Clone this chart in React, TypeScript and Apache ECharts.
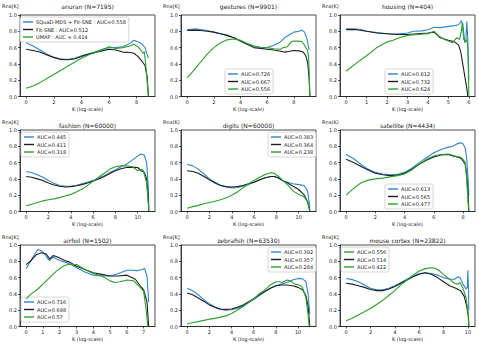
import React, { useEffect, useRef } from "react";
import * as echarts from "echarts";

type P = [number, number][];

// ---------- data (x = log K, y = Rnx(K)) ----------
const titles = [
  "anuran (N=7195)", "gestures (N=9901)", "housing (N=404)",
  "fashion (N=60000)", "digits (N=60000)", "satellite (N=4434)",
  "airfoil (N=1502)", "zebrafish (N=63530)", "mouse cortex (N=23822)",
];
const yLabels = ["Rnx[K]", "Rnx[K]", "Rnx(K)", "Rnx[K]", "Rnx(K)", "Rnx(K)", "Rnx[K]", "Rnx[K]", "Rnx[K]"];
const xMax = [8.88, 9.2, 6.0, 11.0, 11.0, 8.4, 7.31, 11.06, 10.08];
const xTicks = [
  [0, 2, 4, 6, 8], [0, 2, 4, 6, 8], [0, 1, 2, 3, 4, 5, 6],
  [0, 2, 4, 6, 8, 10], [0, 2, 4, 6, 8, 10], [0, 2, 4, 6, 8],
  [0, 1, 2, 3, 4, 5, 6, 7], [0, 2, 4, 6, 8, 10], [0, 2, 4, 6, 8, 10],
];
const yTicks = [0, 0.2, 0.4, 0.6, 0.8, 1.0];
const seriesNames = [
  ["SQuaD-MDS + FIt-SNE : AUC=0.558", "FIt-SNE : AUC=0.512", "UMAP : AUC = 0.414"],
  ["AUC=0.726", "AUC=0.667", "AUC=0.556"],
  ["AUC=0.812", "AUC=0.732", "AUC=0.624"],
  ["AUC=0.445", "AUC=0.411", "AUC=0.318"],
  ["AUC=0.383", "AUC=0.364", "AUC=0.238"],
  ["AUC=0.613", "AUC=0.565", "AUC=0.477"],
  ["AUC=0.716", "AUC=0.698", "AUC=0.57"],
  ["AUC=0.392", "AUC=0.357", "AUC=0.284"],
  ["AUC=0.556", "AUC=0.514", "AUC=0.422"],
];

const anuranBlue: P = [[0,0.66],[0.5,0.62],[1,0.57],[1.5,0.52],[2,0.48],[2.5,0.46],[3,0.455],[3.5,0.47],[4,0.5],[4.5,0.52],[5,0.55],[5.5,0.58],[6,0.6],[6.5,0.6],[7,0.61],[7.4,0.64],[7.8,0.69],[8.1,0.67],[8.4,0.64],[8.6,0.6],[8.75,0.52],[8.85,0.47]];
const anuranBlack: P = [[0,0.58],[0.5,0.565],[1,0.545],[1.5,0.51],[2,0.48],[2.5,0.455],[3,0.45],[3.5,0.46],[4,0.49],[4.5,0.52],[5,0.54],[5.5,0.56],[6,0.58],[6.5,0.57],[7,0.545],[7.5,0.54],[7.8,0.53],[8.1,0.49],[8.4,0.43],[8.6,0.38],[8.75,0.25],[8.85,0.0]];
const anuranGreen: P = [[0,0.1],[0.5,0.13],[1,0.17],[1.5,0.22],[2,0.27],[2.5,0.32],[3,0.37],[3.5,0.42],[4,0.47],[4.5,0.51],[5,0.54],[5.5,0.57],[6,0.61],[6.5,0.59],[7,0.6],[7.5,0.62],[7.8,0.64],[8.1,0.61],[8.3,0.57],[8.45,0.53],[8.55,0.55],[8.65,0.4],[8.8,0.1],[8.85,0.0]];

const gesturesBlue: P = [[0,0.82],[0.3,0.825],[0.7,0.83],[1,0.82],[1.5,0.81],[2,0.79],[2.5,0.77],[3,0.75],[3.5,0.72],[4,0.68],[4.5,0.64],[5,0.62],[5.5,0.605],[6,0.6],[6.5,0.63],[7,0.67],[7.3,0.72],[7.7,0.76],[8,0.79],[8.4,0.8],[8.6,0.815],[8.8,0.79],[9,0.7],[9.1,0.6],[9.15,0.57]];
const gesturesBlack: P = [[0,0.81],[0.5,0.815],[1,0.81],[1.5,0.8],[2,0.79],[2.5,0.77],[3,0.75],[3.5,0.72],[4,0.68],[4.5,0.64],[5,0.6],[5.5,0.59],[6,0.58],[6.5,0.57],[7,0.555],[7.3,0.545],[7.7,0.555],[8,0.565],[8.4,0.56],[8.7,0.545],[8.9,0.5],[9.05,0.4],[9.15,0.2],[9.2,0.0]];
const gesturesGreen: P = [[0,0.23],[0.5,0.32],[1,0.42],[1.5,0.52],[2,0.6],[2.5,0.66],[3,0.695],[3.5,0.705],[4,0.69],[4.5,0.65],[5,0.62],[5.5,0.605],[6,0.6],[6.5,0.585],[7,0.58],[7.2,0.6],[7.5,0.61],[7.8,0.67],[8,0.68],[8.3,0.68],[8.6,0.675],[8.8,0.63],[9,0.57],[9.1,0.5],[9.15,0.3],[9.2,0.0]];

const housingBlue: P = [[0,0.83],[0.3,0.83],[0.7,0.825],[1,0.8],[1.5,0.785],[2,0.77],[2.5,0.765],[3,0.78],[3.3,0.8],[3.7,0.805],[4,0.82],[4.3,0.85],[4.6,0.845],[5,0.86],[5.3,0.87],[5.5,0.88],[5.65,0.93],[5.75,0.7],[5.85,0.67],[5.9,0.92],[5.95,0.7],[6.0,0.2]];
const housingBlack: P = [[0,0.82],[0.5,0.82],[1,0.8],[1.5,0.78],[2,0.77],[2.5,0.76],[3,0.76],[3.5,0.77],[4,0.78],[4.3,0.79],[4.6,0.72],[5,0.69],[5.3,0.67],[5.5,0.63],[5.6,0.55],[5.7,0.4],[5.8,0.25],[5.9,0.1],[5.95,0.0]];
const housingGreen: P = [[0,0.31],[0.5,0.41],[1,0.5],[1.5,0.6],[2,0.67],[2.3,0.69],[2.6,0.72],[3,0.75],[3.5,0.76],[4,0.77],[4.3,0.8],[4.5,0.75],[4.8,0.7],[5,0.68],[5.2,0.66],[5.4,0.72],[5.55,0.7],[5.7,0.9],[5.8,0.66],[5.85,0.68],[5.9,0.7],[5.95,0.6],[6.0,0.0]];

const fashionBlue: P = [[0,0.49],[0.5,0.475],[1,0.45],[1.5,0.42],[2,0.38],[2.5,0.345],[3,0.32],[3.5,0.31],[4,0.31],[4.5,0.32],[5,0.34],[5.5,0.36],[6,0.38],[6.5,0.41],[7,0.44],[7.5,0.48],[8,0.51],[8.5,0.55],[9,0.58],[9.5,0.63],[10,0.68],[10.3,0.705],[10.6,0.69],[10.8,0.6],[10.95,0.3],[11.0,0.05]];
const fashionBlack: P = [[0,0.43],[0.5,0.42],[1,0.4],[1.5,0.38],[2,0.35],[2.5,0.325],[3,0.31],[3.5,0.3],[4,0.305],[4.5,0.315],[5,0.33],[5.5,0.35],[6,0.375],[6.5,0.4],[7,0.43],[7.5,0.465],[8,0.5],[8.5,0.525],[9,0.54],[9.5,0.545],[10,0.54],[10.3,0.5],[10.6,0.48],[10.8,0.4],[10.95,0.15],[11.0,0.0]];
const fashionGreen: P = [[0,0.07],[0.5,0.09],[1,0.11],[1.5,0.13],[2,0.145],[2.5,0.155],[3,0.17],[3.5,0.19],[4,0.21],[4.5,0.24],[5,0.275],[5.5,0.32],[6,0.37],[6.5,0.42],[7,0.47],[7.5,0.52],[8,0.55],[8.5,0.56],[9,0.56],[9.5,0.55],[10,0.5],[10.3,0.52],[10.5,0.5],[10.8,0.35],[10.95,0.1],[11.0,0.0]];

const digitsBlue: P = [[0,0.58],[0.5,0.56],[1,0.52],[1.5,0.46],[2,0.4],[2.5,0.36],[3,0.32],[3.5,0.3],[4,0.29],[4.5,0.295],[5,0.31],[5.5,0.33],[6,0.36],[6.5,0.39],[7,0.415],[7.5,0.43],[7.8,0.43],[8.2,0.41],[8.5,0.38],[9,0.36],[9.5,0.34],[10,0.33],[10.5,0.32],[10.8,0.25],[10.95,0.1],[11.0,0.0]];
const digitsBlack: P = [[0,0.5],[0.5,0.49],[1,0.47],[1.5,0.43],[2,0.39],[2.5,0.35],[3,0.32],[3.5,0.305],[4,0.3],[4.5,0.305],[5,0.32],[5.5,0.34],[6,0.36],[6.5,0.39],[7,0.415],[7.5,0.43],[7.8,0.43],[8.2,0.41],[8.5,0.385],[9,0.35],[9.5,0.31],[10,0.27],[10.5,0.2],[10.8,0.12],[11.0,0.0]];
const digitsGreen: P = [[0,0.04],[0.5,0.06],[1,0.075],[1.5,0.095],[2,0.11],[2.5,0.125],[3,0.145],[3.5,0.17],[4,0.2],[4.5,0.24],[5,0.29],[5.5,0.34],[6,0.38],[6.5,0.42],[7,0.455],[7.5,0.475],[7.8,0.47],[8.2,0.43],[8.5,0.39],[9,0.33],[9.5,0.25],[10,0.21],[10.5,0.18],[10.8,0.12],[11.0,0.0]];

const satelliteBlue: P = [[0,0.7],[0.5,0.65],[1,0.58],[1.5,0.52],[2,0.48],[2.5,0.46],[3,0.45],[3.5,0.455],[4,0.48],[4.5,0.53],[5,0.6],[5.5,0.66],[6,0.72],[6.5,0.76],[7,0.79],[7.3,0.8],[7.6,0.83],[7.85,0.845],[8,0.83],[8.15,0.78],[8.25,0.65],[8.35,0.4],[8.4,0.2]];
const satelliteBlack: P = [[0,0.64],[0.5,0.6],[1,0.555],[1.5,0.51],[2,0.47],[2.5,0.45],[3,0.44],[3.5,0.445],[4,0.47],[4.5,0.52],[5,0.58],[5.5,0.63],[6,0.67],[6.5,0.695],[7,0.7],[7.3,0.68],[7.6,0.67],[7.85,0.655],[8.0,0.62],[8.15,0.58],[8.25,0.45],[8.35,0.2],[8.4,0.0]];
const satelliteGreen: P = [[0,0.2],[0.5,0.28],[1,0.35],[1.5,0.385],[2,0.4],[2.5,0.41],[3,0.425],[3.5,0.44],[4,0.46],[4.5,0.51],[5,0.58],[5.5,0.64],[6,0.68],[6.5,0.7],[7,0.705],[7.3,0.69],[7.6,0.67],[7.85,0.665],[8.0,0.64],[8.15,0.6],[8.25,0.4],[8.35,0.1],[8.4,0.0]];

const airfoilBlue: P = [[0,0.71],[0.2,0.78],[0.4,0.85],[0.7,0.945],[0.9,0.93],[1.1,0.89],[1.3,0.83],[1.4,0.81],[1.6,0.85],[1.8,0.83],[2,0.81],[2.3,0.79],[2.6,0.77],[3,0.72],[3.5,0.67],[4,0.63],[4.5,0.62],[5,0.62],[5.5,0.65],[6,0.69],[6.3,0.69],[6.6,0.685],[6.9,0.7],[7.05,0.71],[7.2,0.62],[7.3,0.3]];
const airfoilBlack: P = [[0,0.76],[0.3,0.81],[0.6,0.88],[0.9,0.905],[1.2,0.89],[1.4,0.83],[1.6,0.87],[1.8,0.86],[2,0.84],[2.3,0.81],[2.6,0.79],[3,0.74],[3.5,0.7],[4,0.66],[4.5,0.64],[5,0.62],[5.5,0.62],[6,0.63],[6.5,0.58],[6.8,0.5],[7,0.45],[7.2,0.3],[7.3,0.0]];
const airfoilGreen: P = [[0,0.34],[0.3,0.4],[0.7,0.46],[1,0.52],[1.4,0.6],[1.8,0.68],[2.2,0.74],[2.5,0.76],[3,0.76],[3.5,0.7],[4,0.65],[4.5,0.62],[5,0.56],[5.3,0.54],[5.6,0.55],[6,0.57],[6.4,0.56],[6.7,0.5],[7,0.43],[7.15,0.2],[7.25,0.0]];

const zebrafishBlue: P = [[0,0.47],[0.5,0.44],[1,0.39],[1.5,0.33],[2,0.28],[2.5,0.24],[3,0.21],[3.5,0.2],[4,0.205],[4.5,0.22],[5,0.25],[5.5,0.29],[6,0.33],[6.5,0.38],[7,0.43],[7.5,0.47],[8,0.5],[8.5,0.52],[9,0.54],[9.5,0.57],[10,0.59],[10.4,0.585],[10.7,0.55],[10.9,0.4],[11.05,0.15]];
const zebrafishBlack: P = [[0,0.41],[0.5,0.39],[1,0.35],[1.5,0.31],[2,0.265],[2.5,0.235],[3,0.215],[3.5,0.21],[4,0.215],[4.5,0.235],[5,0.26],[5.5,0.3],[6,0.34],[6.5,0.39],[7,0.43],[7.5,0.47],[8,0.5],[8.5,0.51],[9,0.51],[9.5,0.5],[10,0.48],[10.4,0.45],[10.7,0.38],[10.9,0.25],[11.06,0.0]];
const zebrafishGreen: P = [[0,0.03],[0.5,0.045],[1,0.06],[1.5,0.075],[2,0.09],[2.5,0.1],[3,0.115],[3.5,0.13],[4,0.16],[4.5,0.2],[5,0.24],[5.5,0.29],[6,0.34],[6.5,0.4],[7,0.45],[7.5,0.51],[8,0.55],[8.3,0.55],[8.6,0.54],[9,0.57],[9.3,0.56],[9.7,0.52],[10.1,0.51],[10.4,0.48],[10.7,0.35],[10.9,0.15],[11.0,0.0]];

const mouseBlue: P = [[0,0.59],[0.5,0.575],[1,0.55],[1.5,0.51],[2,0.47],[2.5,0.45],[3,0.45],[3.5,0.47],[4,0.5],[4.5,0.54],[5,0.58],[5.5,0.62],[6,0.65],[6.5,0.66],[7,0.65],[7.5,0.63],[8,0.6],[8.5,0.58],[8.9,0.58],[9.2,0.61],[9.35,0.6],[9.6,0.52],[9.85,0.46],[9.95,0.48],[10.0,0.69],[10.05,0.45],[10.08,0.2]];
const mouseBlack: P = [[0,0.53],[0.5,0.52],[1,0.5],[1.5,0.48],[2,0.455],[2.5,0.44],[3,0.44],[3.5,0.46],[4,0.49],[4.5,0.53],[5,0.57],[5.5,0.61],[6,0.64],[6.5,0.66],[7,0.64],[7.5,0.6],[8,0.55],[8.5,0.5],[9,0.47],[9.4,0.44],[9.7,0.37],[9.9,0.25],[10.05,0.12],[10.08,0.0]];
const mouseGreen: P = [[0,0.07],[0.5,0.1],[1,0.14],[1.5,0.18],[2,0.22],[2.5,0.27],[3,0.32],[3.5,0.38],[4,0.44],[4.5,0.51],[5,0.57],[5.5,0.63],[6,0.68],[6.5,0.71],[7,0.72],[7.3,0.715],[7.6,0.69],[8,0.64],[8.5,0.58],[8.9,0.53],[9.2,0.52],[9.35,0.54],[9.6,0.47],[9.85,0.35],[10.0,0.2],[10.08,0.0]];

const panelData: P[][] = [
  [anuranBlue, anuranBlack, anuranGreen],
  [gesturesBlue, gesturesBlack, gesturesGreen],
  [housingBlue, housingBlack, housingGreen],
  [fashionBlue, fashionBlack, fashionGreen],
  [digitsBlue, digitsBlack, digitsGreen],
  [satelliteBlue, satelliteBlack, satelliteGreen],
  [airfoilBlue, airfoilBlack, airfoilGreen],
  [zebrafishBlue, zebrafishBlack, zebrafishGreen],
  [mouseBlue, mouseBlack, mouseGreen],
];

// ---------- layout / style ----------
const COLORS = ["#2f86cc", "#1e1e1e", "#2ca02c"];
const FONT = "DejaVu Sans";
const colLeft = [20, 181, 340];
const rowTop = [15, 130, 245];
const GW = 135;
const GH = 81.5;
const legendPos: [number, number][] = [
  [20, 17], [225, 69], [385, 69],
  [21, 132], [268, 132], [385, 184],
  [21, 297], [268, 247], [341, 247],
];
const titleDy = [-9, -5, -5];
const ylabDy = [-9, -8, -8];

function textEl(text: string, x: number, y: number, size: number, align: string) {
  return {
    type: "text",
    x,
    y,
    silent: true,
    style: {
      text,
      fontSize: size,
      fontFamily: FONT,
      fill: "#222",
      textAlign: align,
      textVerticalAlign: "middle",
      align,
      verticalAlign: "middle",
    },
  };
}

export default function App() {
  const ref = useRef<HTMLDivElement>(null);
  useEffect(() => {
    if (!ref.current) return;
    const chart = echarts.init(ref.current, undefined, { renderer: "svg" });
    const grid: any[] = [];
    const xAxis: any[] = [];
    const yAxis: any[] = [];
    const series: any[] = [];
    const legend: any[] = [];
    const graphic: any[] = [];
    for (let i = 0; i < 9; i++) {
      const r = Math.floor(i / 3);
      const c = i % 3;
      const left = colLeft[c];
      const top = rowTop[r];
      grid.push({ left, top, width: GW, height: GH, show: true, borderColor: "#222", borderWidth: 0.8, backgroundColor: "transparent" });
      const pad = xMax[i] * 0.05;
      xAxis.push({
        type: "value",
        gridIndex: i,
        min: -pad,
        max: xMax[i] + pad,
        splitLine: { show: false },
        axisLine: { show: true, onZero: false, lineStyle: { color: "#222", width: 0.8 } },
        axisTick: { show: true, inside: false, length: 2, customValues: xTicks[i], lineStyle: { color: "#222", width: 0.8 } },
        axisLabel: { show: true, customValues: xTicks[i], fontSize: 5, fontFamily: FONT, color: "#222", margin: 3, formatter: (v: number) => String(Math.round(v)) },
      });
      yAxis.push({
        type: "value",
        gridIndex: i,
        min: 0,
        max: 1,
        splitLine: { show: false },
        axisLine: { show: true, onZero: false, lineStyle: { color: "#222", width: 0.8 } },
        axisTick: { show: true, inside: false, length: 2, customValues: yTicks, lineStyle: { color: "#222", width: 0.8 } },
        axisLabel: { show: true, customValues: yTicks, fontSize: 5, fontFamily: FONT, color: "#222", margin: 3, formatter: (v: number) => v.toFixed(1) },
      });
      for (let s = 0; s < 3; s++) {
        series.push({
          type: "line",
          name: seriesNames[i][s],
          xAxisIndex: i,
          yAxisIndex: i,
          data: panelData[i][s],
          showSymbol: false,
          symbol: "none",
          color: COLORS[s],
          lineStyle: { width: 1.1, color: COLORS[s] },
          z: 2 + s,
        });
      }
      legend.push({
        orient: "vertical",
        left: legendPos[i][0],
        top: legendPos[i][1],
        data: seriesNames[i],
        icon: "rect",
        itemWidth: 10,
        itemHeight: 1.4,
        itemGap: 1.5,
        selectedMode: false,
        padding: [2, 3, 2, 3],
        borderColor: "#cccccc",
        borderWidth: 0.8,
        borderRadius: 2,
        backgroundColor: "rgba(255,255,255,0.85)",
        textStyle: { fontSize: 5, fontFamily: FONT, color: "#222", lineHeight: 6, padding: [0, 0, 0, -2] },
      });
      const cx = left + GW / 2;
      graphic.push(textEl(titles[i], cx, top + titleDy[r], 6, "center"));
      graphic.push(textEl(yLabels[i], left - 18, top + ylabDy[r], 5, "left"));
      graphic.push(textEl("K (log-scale)", cx, top + GH + 12, 5, "center"));
    }
    chart.setOption({
      animation: false,
      backgroundColor: "#ffffff",
      grid,
      xAxis,
      yAxis,
      series,
      legend,
      graphic: { elements: graphic },
    });
    return () => chart.dispose();
  }, []);
  return <div ref={ref} style={{ position: "fixed", left: 0, top: 0, width: 479, height: 349 }} />;
}
